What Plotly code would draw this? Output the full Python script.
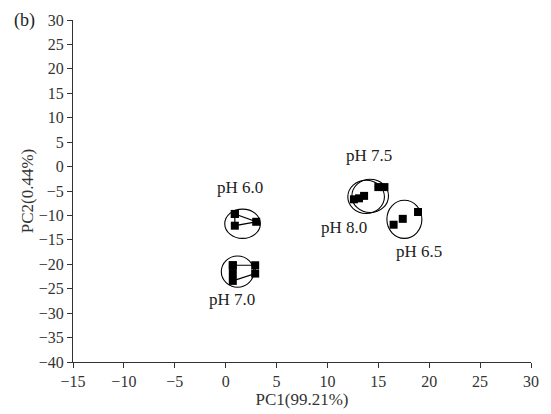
import plotly.graph_objects as go

# Group scores (PC1, PC2)
groups = ["pH 6.0", "pH 7.0", "pH 6.5", "pH 7.5", "pH 8.0"]

ph60_x = [0.9, 3.0, 0.9, 0.9]
ph60_y = [-9.7, -11.3, -12.1, -9.7]

ph70_x = [0.7, 0.7, 0.7, 2.9, 2.9, 0.7]
ph70_y = [-20.2, -21.8, -23.4, -21.9, -20.2, -20.2]

ph65_x = [16.5, 17.4, 18.9]
ph65_y = [-11.9, -10.7, -9.3]

ph75_x = [15.0, 15.6]
ph75_y = [-4.2, -4.2]

ph80_x = [12.6, 13.1, 13.6]
ph80_y = [-6.7, -6.5, -6.0]

# Confidence ellipses: center x, center y, radius x, radius y
ell_cx = [1.66, 1.17, 17.56, 14.2, 13.8]
ell_cy = [-11.7, -21.5, -10.8, -6.0, -6.2]
ell_rx = [1.75, 1.6, 1.72, 1.8, 1.8]
ell_ry = [3.0, 3.2, 3.9, 3.4, 3.4]

# Group label positions
lab_text = ["pH 6.0", "pH 7.0", "pH 7.5", "pH 8.0", "pH 6.5"]
lab_x = [1.4, 0.6, 14.1, 11.6, 19.0]
lab_y = [-4.3, -27.3, 2.3, -12.4, -17.4]

x_ticks = [-15, -10, -5, 0, 5, 10, 15, 20, 25, 30]
y_ticks = [30, 25, 20, 15, 10, 5, 0, -5, -10, -15, -20, -25, -30, -35, -40]

FONT = "Liberation Serif"

fig = go.Figure()

marker = dict(symbol="square", size=8, color="black")
fig.add_trace(go.Scatter(x=ph60_x, y=ph60_y, mode="lines+markers", marker=marker,
                         line=dict(color="black", width=1.2), showlegend=False))
fig.add_trace(go.Scatter(x=ph70_x, y=ph70_y, mode="lines+markers", marker=marker,
                         line=dict(color="black", width=1.2), showlegend=False))
for xs, ys in [(ph65_x, ph65_y), (ph75_x, ph75_y), (ph80_x, ph80_y)]:
    fig.add_trace(go.Scatter(x=xs, y=ys, mode="markers", marker=marker, showlegend=False))

for cx, cy, rx, ry in zip(ell_cx, ell_cy, ell_rx, ell_ry):
    fig.add_shape(type="circle", xref="x", yref="y",
                  x0=cx - rx, x1=cx + rx, y0=cy - ry, y1=cy + ry,
                  line=dict(color="black", width=1.1))

for t, x, y in zip(lab_text, lab_x, lab_y):
    fig.add_annotation(x=x, y=y, text=t, showarrow=False, xref="x", yref="y",
                       font=dict(family=FONT, size=17, color="#222"))

fig.add_annotation(x=-0.105, y=1.0, xref="paper", yref="paper", text="(b)",
                   showarrow=False, font=dict(family=FONT, size=18, color="#222"),
                   xanchor="center", yanchor="middle")

axis_common = dict(showgrid=False, zeroline=False, showline=True, linecolor="#333",
                   linewidth=1.2, ticks="outside", ticklen=5, tickcolor="#333",
                   tickwidth=1.2, tickfont=dict(family=FONT, size=16, color="#333"))

fig.update_layout(
    width=551, height=414,
    margin=dict(l=73, r=18, t=15, b=51),
    paper_bgcolor="white", plot_bgcolor="white",
    xaxis=dict(range=[-15, 30], tickvals=x_ticks, ticklabelstandoff=0,
               title=dict(text="PC1(99.21%)", standoff=0,
                          font=dict(family=FONT, size=17, color="#333")),
               **axis_common),
    yaxis=dict(range=[-40, 30], tickvals=y_ticks, ticklabelstandoff=0,
               title=dict(text="PC2(0.44%)", standoff=0,
                          font=dict(family=FONT, size=17, color="#333")),
               **axis_common),
)

fig.write_html("out.html")
